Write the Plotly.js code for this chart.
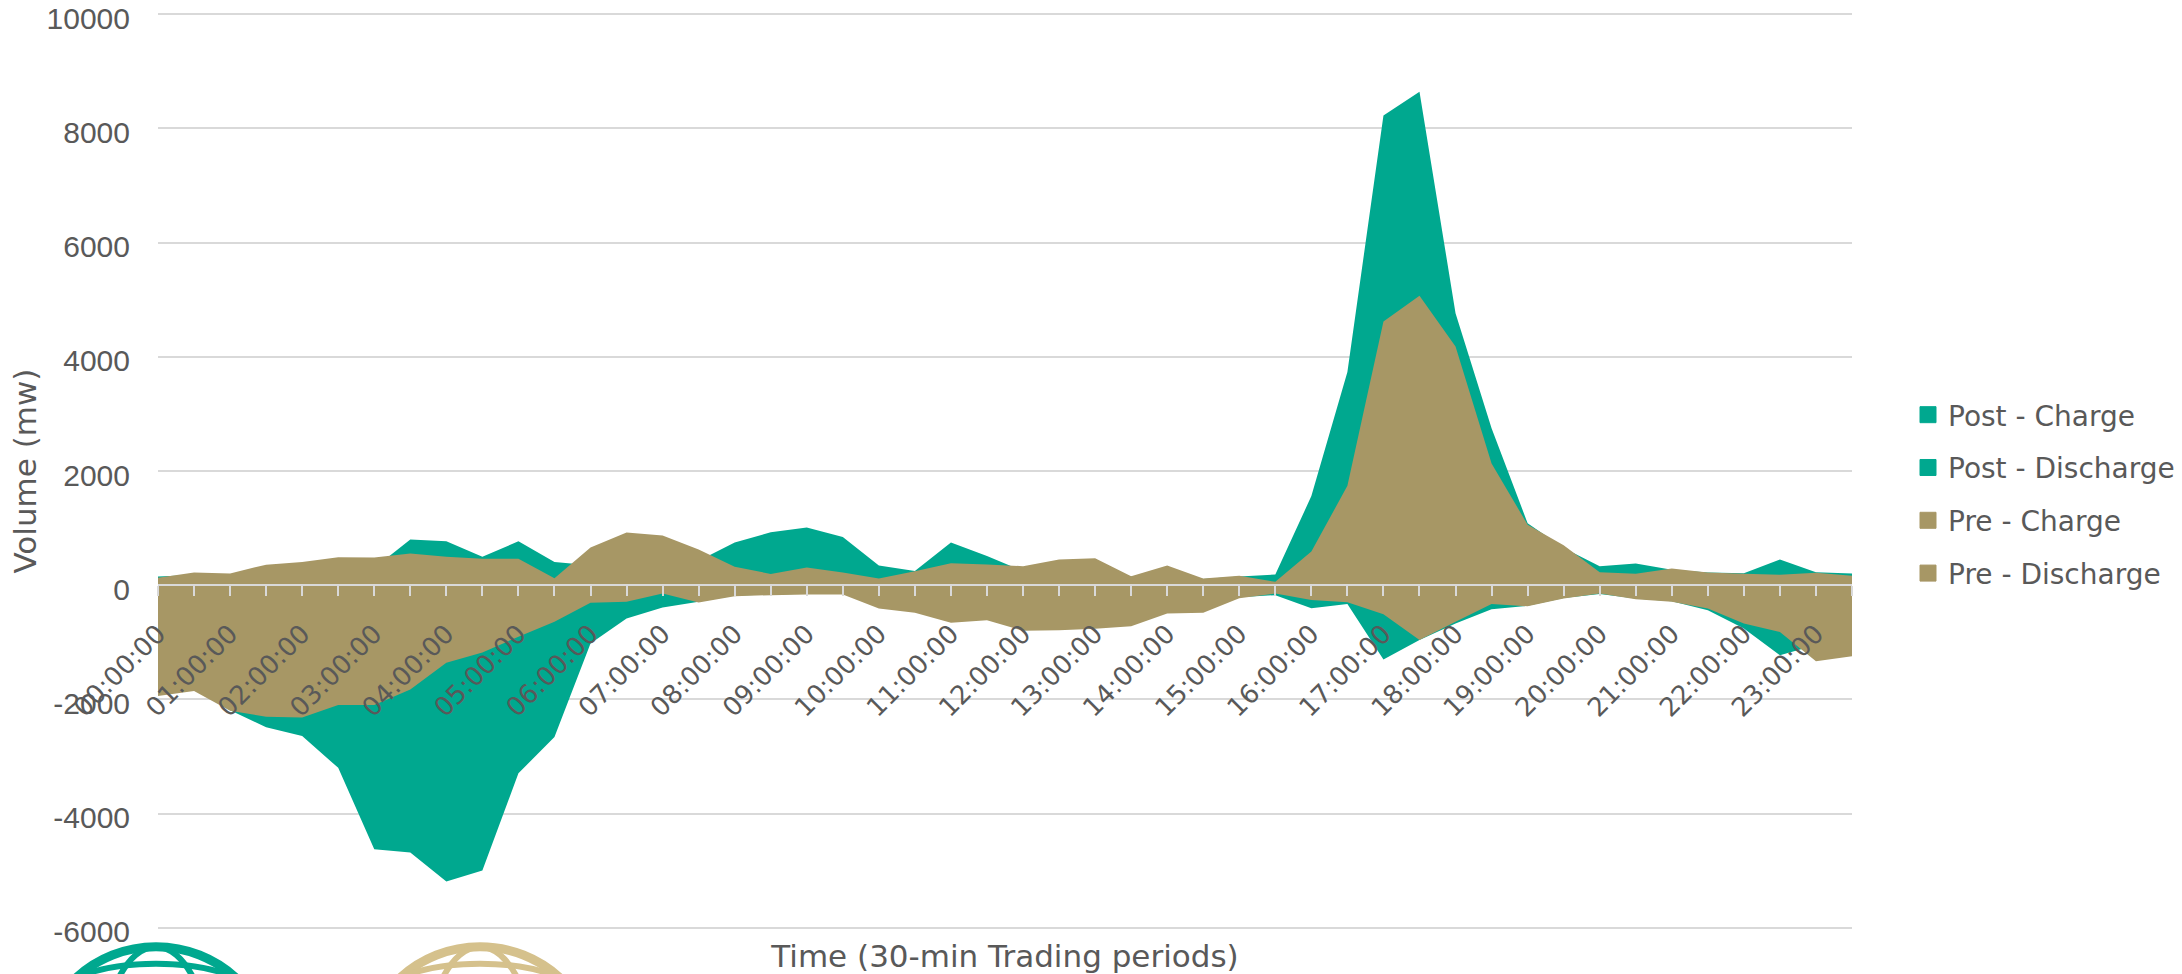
<!DOCTYPE html>
<html>
<head>
<meta charset="utf-8">
<script src="https://cdn.plot.ly/plotly-3.0.1.min.js"></script>
<style>
  html, body { margin: 0; padding: 0; background: #ffffff; }
  #chart { width: 2182px; height: 974px; }
</style>
</head>
<body>
<div id="chart"></div>
<script>
// ---- data ----
const periods = [
  "00:00:00","00:30:00","01:00:00","01:30:00","02:00:00","02:30:00",
  "03:00:00","03:30:00","04:00:00","04:30:00","05:00:00","05:30:00",
  "06:00:00","06:30:00","07:00:00","07:30:00","08:00:00","08:30:00",
  "09:00:00","09:30:00","10:00:00","10:30:00","11:00:00","11:30:00",
  "12:00:00","12:30:00","13:00:00","13:30:00","14:00:00","14:30:00",
  "15:00:00","15:30:00","16:00:00","16:30:00","17:00:00","17:30:00",
  "18:00:00","18:30:00","19:00:00","19:30:00","20:00:00","20:30:00",
  "21:00:00","21:30:00","22:00:00","22:30:00","23:00:00","23:30:00"
];
const hourLabels = [
  "00:00:00","01:00:00","02:00:00","03:00:00","04:00:00","05:00:00",
  "06:00:00","07:00:00","08:00:00","09:00:00","10:00:00","11:00:00",
  "12:00:00","13:00:00","14:00:00","15:00:00","16:00:00","17:00:00",
  "18:00:00","19:00:00","20:00:00","21:00:00","22:00:00","23:00:00"
];
const postCharge = [150, 180, 180, 250, 280, 300, 300, 799, 770, 496, 770, 408,
  350, 400, 420, 430, 747, 928, 1009, 846, 344, 250, 747, 510,
  245, 300, 300, 150, 250, 110, 150, 187, 1560, 3735, 8225, 8645,
  4765, 2750, 1085, 650, 330, 378, 270, 220, 210, 450, 225, 205];
const postDischarge = [-1850, -1800, -2190, -2490, -2642, -3200, -4625, -4684, -5192, -4998, -3295, -2660,
  -1021, -583, -391, -290, -180, -165, -150, -150, -380, -460, -620, -580,
  -760, -750, -720, -680, -470, -460, -210, -175, -405, -330, -1300, -960,
  -670, -420, -360, -225, -155, -235, -280, -439, -760, -1228, -1050, -1000];
const preCharge = [130, 220, 205, 360, 408, 490, 484, 554, 496, 461, 461, 120,
  659, 922, 869, 624, 321, 198, 309, 222, 117, 245, 385, 362,
  333, 449, 473, 158, 344, 117, 163, 60, 590, 1740, 4620, 5070,
  4180, 2130, 1060, 700, 228, 199, 292, 222, 199, 181, 216, 164];
const preDischarge = [-1942, -1852, -2200, -2304, -2316, -2100, -2100, -1826, -1359, -1180, -904, -642,
  -309, -292, -146, -303, -193, -175, -163, -163, -408, -484, -659, -613,
  -799, -788, -764, -718, -496, -484, -228, -146, -260, -300, -510, -960,
  -640, -330, -370, -234, -146, -246, -292, -409, -673, -819, -1333, -1246];
const yTicks = [-6000, -4000, -2000, 0, 2000, 4000, 6000, 8000, 10000];
const seriesNames = ["Post - Charge", "Post - Discharge", "Pre - Charge", "Pre - Discharge"];

// ---- styles ----
const TEAL = "#00A88F";
const KHAKI = "#A79765";
const GOLD = "#D5C18C";
const GREY_TXT = "#595959";
const GRID = "#D9D9D9";
const SANS = "DejaVu Sans, Verdana, sans-serif";
const LABEL_FONT = "Liberation Sans, Arial, sans-serif";

const W = 2182, H = 974;
// y range padded by 40 units (~2.3px) so the end grid lines are drawn
const Y_MIN = -6040, Y_MAX = 10040;
const M = {l: 158, r: 330, t: 11.7, b: 43.7, autoexpand: false};
const PW = W - M.l - M.r, PH = H - M.t - M.b;
const px = x => (x - M.l) / PW;
const py = y => (H - M.b - y) / PH;

const seriesValues = [postCharge, postDischarge, preCharge, preDischarge];
const seriesColors = [TEAL, TEAL, KHAKI, KHAKI];

const traces = [];
seriesValues.forEach((vals, k) => {
  traces.push({
    type: "scatter", mode: "none", x: periods, y: vals,
    fill: "tozeroy", fillcolor: seriesColors[k],
    name: seriesNames[k], showlegend: false, hoverinfo: "x+y+name"
  });
});
seriesNames.forEach((nm, k) => {
  traces.push({
    type: "scatter", mode: "markers", x: [null], y: [null],
    name: nm, legendgroup: "g" + k, showlegend: true,
    marker: {symbol: "square", size: 16, color: seriesColors[k],
             line: {width: 1, color: seriesColors[k]}}
  });
});

const tickText = periods.map(p => hourLabels.includes(p) ? p : "");

// decorative globes (partially visible at bottom-left)
function ring(cx, cy, rx, ry, color, w) {
  return {type: "circle", xref: "paper", yref: "paper", layer: "above",
    x0: px(cx - rx), x1: px(cx + rx), y0: py(cy - ry), y1: py(cy + ry),
    line: {color: color, width: w}, fillcolor: "rgba(0,0,0,0)"};
}
const shapes = [];
[[156, TEAL], [480, GOLD]].forEach(([cx, col]) => {
  shapes.push(ring(cx, 1065, 118, 118, col, 9));
  shapes.push(ring(cx, 1000, 100, 36, col, 6));
  shapes.push(ring(cx, 1065, 55, 118, col, 6));
});

const layout = {
  width: W, height: H,
  margin: M,
  paper_bgcolor: "#ffffff", plot_bgcolor: "#ffffff",
  showlegend: true,
  legend: {
    x: px(1908), xanchor: "left", y: py(494), yanchor: "middle",
    font: {family: SANS, size: 28, color: GREY_TXT},
    traceorder: "grouped", tracegroupgap: 13.4,
    bgcolor: "rgba(0,0,0,0)", borderwidth: 0
  },
  xaxis: {
    type: "category",
    range: [0, periods.length - 1],
    anchor: "free", position: (0 - Y_MIN) / (Y_MAX - Y_MIN),
    showline: true, linecolor: GRID, linewidth: 2,
    ticks: "outside", ticklen: 10, tickwidth: 2, tickcolor: GRID,
    tickmode: "array", tickvals: periods, ticktext: tickText,
    tickangle: -45, ticklabelstandoff: 12,
    tickfont: {family: SANS, size: 26, color: GREY_TXT},
    showgrid: false, zeroline: false,
    title: {text: "Time (30-min Trading periods)", standoff: 238,
            font: {family: SANS, size: 31, color: GREY_TXT}}
  },
  yaxis: {
    range: [Y_MIN, Y_MAX],
    tickmode: "array", tickvals: yTicks, ticktext: yTicks.map(String),
    ticklabeloverflow: "allow", ticklabelshift: 4,
    showgrid: true, gridcolor: GRID, gridwidth: 1.5,
    zeroline: false, showline: false,
    ticks: "outside", ticklen: 21, tickcolor: "rgba(0,0,0,0)",
    tickfont: {family: LABEL_FONT, size: 30, color: GREY_TXT},
    title: {text: "Volume (mw)", standoff: 0,
            font: {family: SANS, size: 31, color: GREY_TXT}}
  },
  shapes: shapes
};

Plotly.newPlot("chart", traces, layout, {displayModeBar: false, responsive: false});
</script>
</body>
</html>
